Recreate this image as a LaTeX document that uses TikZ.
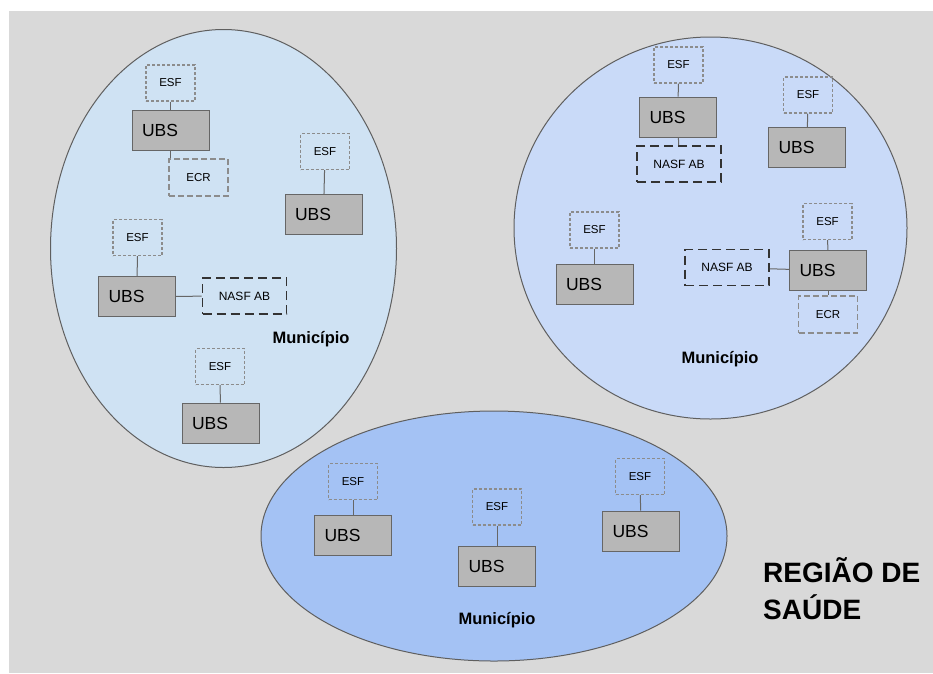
\documentclass[tikz,border=0pt]{standalone}
\usepackage{fontspec}
\setmainfont{Liberation Sans}
\usetikzlibrary{positioning}

\definecolor{bggray}{HTML}{D9D9D9}
\definecolor{munA}{HTML}{CFE2F3}
\definecolor{munB}{HTML}{C9DAF8}
\definecolor{munC}{HTML}{A4C2F4}
\definecolor{rimgray}{HTML}{5F5F5F}
\definecolor{ubsfill}{HTML}{B7B7B7}
\definecolor{boxline}{HTML}{666666}
\definecolor{dashgray}{HTML}{8C8C8C}
\definecolor{nasfline}{HTML}{333333}

\begin{document}
\begin{tikzpicture}[x=1pt, y=-1pt,
      mun/.style = {fill=#1, draw=rimgray, line width=1pt},% ellipses of municipios
      ubs/.style = {rectangle, draw=boxline, fill=ubsfill, line width=1pt,
                    minimum height=40pt, text width=57pt, inner xsep=10pt,
                    align=left, font=\fontsize{17.5}{20}\selectfont},
      esf/.style = {rectangle, draw=dashgray, line width=1.2pt,
                    dash pattern=on 3pt off 2pt,
                    minimum width=49pt, minimum height=36pt,
                    font=\fontsize{11.5}{13}\selectfont},
      ecr/.style = {esf, dash pattern=on 6pt off 3pt,
                    minimum width=59pt, minimum height=37pt},
     nasf/.style = {rectangle, draw=nasfline, line width=1.8pt,
                    dash pattern=on 9pt off 5pt,
                    minimum width=84pt, minimum height=36pt,
                    font=\fontsize{12}{13}\selectfont},
    label/.style = {font=\bfseries\fontsize{16.5}{20}\selectfont},
     link/.style = {draw=boxline, line width=1pt},
                        ]
\useasboundingbox (0,0) rectangle (933,673);
\fill[bggray] (9,11) rectangle (933,673);
% municipios
\path[mun=munA] (223.5,248.5) ellipse [x radius=173pt, y radius=219pt];
\path[mun=munB] (710.5,228) ellipse [x radius=196.5pt, y radius=191pt];
\path[mun=munC] (494,536) ellipse [x radius=233pt, y radius=125pt];
% UBS with its ESF
\foreach \n/\ux/\uy/\ex/\ey in {1/170.5/130/170.5/83, 2/323.5/214.5/325/151.5,
        3/137/296.5/137.5/237.5, 4/220.5/423/220/366.5,
        5/678/117/678.5/65, 6/807/147.5/808/95,
        7/594.5/284.5/594.5/230, 8/828/270.5/827.5/221.5,
        9/353/535/353/481.5, 10/497/566/497/507, 11/641/531/640/476.5}{
    \node[ubs] (u\n) at (\ux,\uy) {UBS};
    \node[esf] (e\n) at (\ex,\ey) {ESF};
    \draw[link] (e\n) -- (u\n);
}
\node[ecr]  (c1) at (198.5,177.5) {ECR};
\node[nasf] (n3) at (244.5,296)   {NASF AB};
\node[nasf] (n5) at (679,164)     {NASF AB};
\node[nasf] (n8) at (727,267.5)   {NASF AB};
\node[ecr]  (c8) at (828,314.5)   {ECR};
\draw[link] (u1.south) -- (u1.south |- c1.north);
\draw[link] (u3) -- (n3);
\draw[link] (u5) -- (n5);
\draw[link] (n8) -- (u8);
\draw[link] (u8) -- (c8);
% labels
\node[label] (m1) at (311,339) {Município};
\node[label] (m2) at (720,359) {Município};
\node[label] (m3) at (497,620) {Município};
\node[font=\bfseries\fontsize{28}{37}\selectfont, align=left, anchor=west,
      inner sep=0pt] (reg) at (763,589) {REGIÃO DE\\SAÚDE};
\end{tikzpicture}
\end{document}
